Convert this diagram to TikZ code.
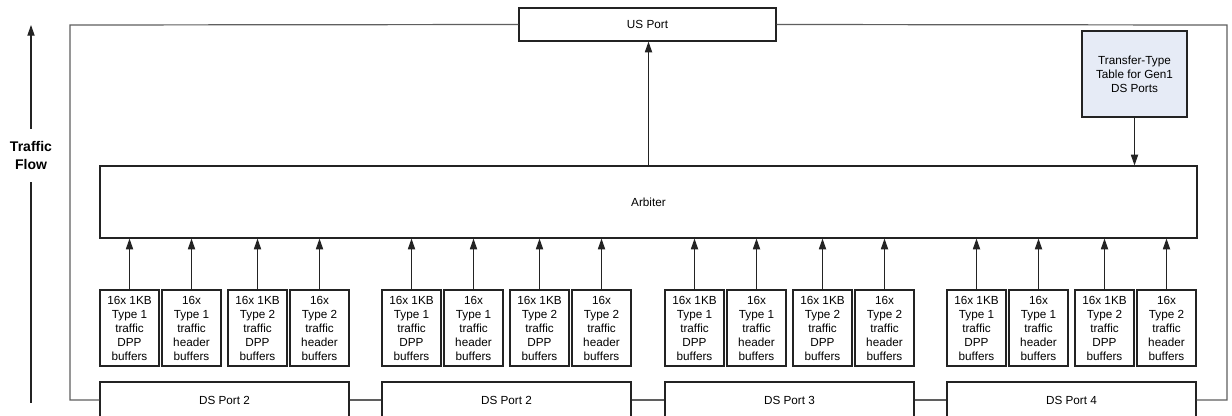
\documentclass[tikz,border=0pt]{standalone}
\usepackage{fontspec}
\setmainfont{Liberation Sans}
\usepackage{tikz}
\usetikzlibrary{arrows.meta}
\definecolor{tablefill}{RGB}{230,235,246}
\definecolor{framegray}{RGB}{95,95,95}
\definecolor{boxline}{RGB}{35,35,35}

\begin{document}
\begin{tikzpicture}[x=0.75pt,y=-0.75pt,>={Triangle[length=8pt,width=5.4pt]},
  font=\fontsize{8.8}{10.5}\selectfont,
  blk/.style={rectangle,draw=boxline,fill=white,line width=0.9pt,inner sep=0pt,align=center},
  bufbox/.style={blk,minimum width=44.25pt,minimum height=57pt},
  portbox/.style={blk,minimum width=186.75pt,minimum height=27pt},
  frame/.style={draw=framegray,line width=0.9pt},
  flowline/.style={draw=boxline,line width=0.8pt}]
\useasboundingbox (0,0) rectangle (1232,415);
\clip (0,0) rectangle (1232,415);
\fill[white] (0,0) rectangle (1232,415);
\node[blk,minimum width=192.75pt,minimum height=24.75pt] (us) at (647.5,24.5) {US Port};
\node[blk,minimum width=822.75pt,minimum height=54pt] (arb) at (648.5,202) {Arbiter};
\node[blk,fill=tablefill,minimum width=78.75pt,minimum height=64.5pt] (tbl) at (1134.5,74) {Transfer-Type\\Table for Gen1\\DS Ports};
\node[font=\fontsize{10.5}{13.5}\selectfont\bfseries,align=center,inner sep=0pt,minimum height=39.75pt] (flow) at (31,155.5) {Traffic\\Flow};
\coordinate (flowtop) at (31,25);
\coordinate (flowbot) at (31,403);
% downstream ports and their buffers
\foreach \g/\x/\lbl in {1/100/DS Port 2,2/382/DS Port 2,3/665/DS Port 3,4/947/DS Port 4}{
  \node[portbox] (ds\g) at (\x+124.5,400) {\lbl};
  \node[bufbox] (b\g1) at (\x+29.5,328) {16x 1KB\\Type 1\\traffic\\DPP\\buffers};
  \node[bufbox] (b\g2) at (\x+91.5,328) {16x\\Type 1\\traffic\\header\\buffers};
  \node[bufbox] (b\g3) at (\x+157.5,328) {16x 1KB\\Type 2\\traffic\\DPP\\buffers};
  \node[bufbox] (b\g4) at (\x+219.5,328) {16x\\Type 2\\traffic\\header\\buffers};
  \foreach \k in {1,...,4}
    \draw[->,flowline] (b\g\k.north) -- (b\g\k.north |- arb.south);
}
% outer frame
\coordinate (tl) at (70,25);
\coordinate (bl) at (70,400);
\coordinate (tr) at (1227,25);
\coordinate (br) at (1227,400);
\draw[frame] (us.west) -- (tl) -- (bl) -- (ds1.west);
\draw[frame] (ds1.east) -- (ds2.west);
\draw[frame] (ds2.east) -- (ds3.west);
\draw[frame] (ds3.east) -- (ds4.west);
\draw[frame] (ds4.east) -- (br) -- (tr) -- (us.east);
\draw[->,flowline] (arb.north) -- (arb.north |- us.south);
\draw[->,flowline] (tbl.south) -- (tbl.south |- arb.north);
\draw[->,flowline] (flow.north) -- (flowtop);
\draw[flowline] (flow.south) -- (flowbot);
\end{tikzpicture}
\end{document}
